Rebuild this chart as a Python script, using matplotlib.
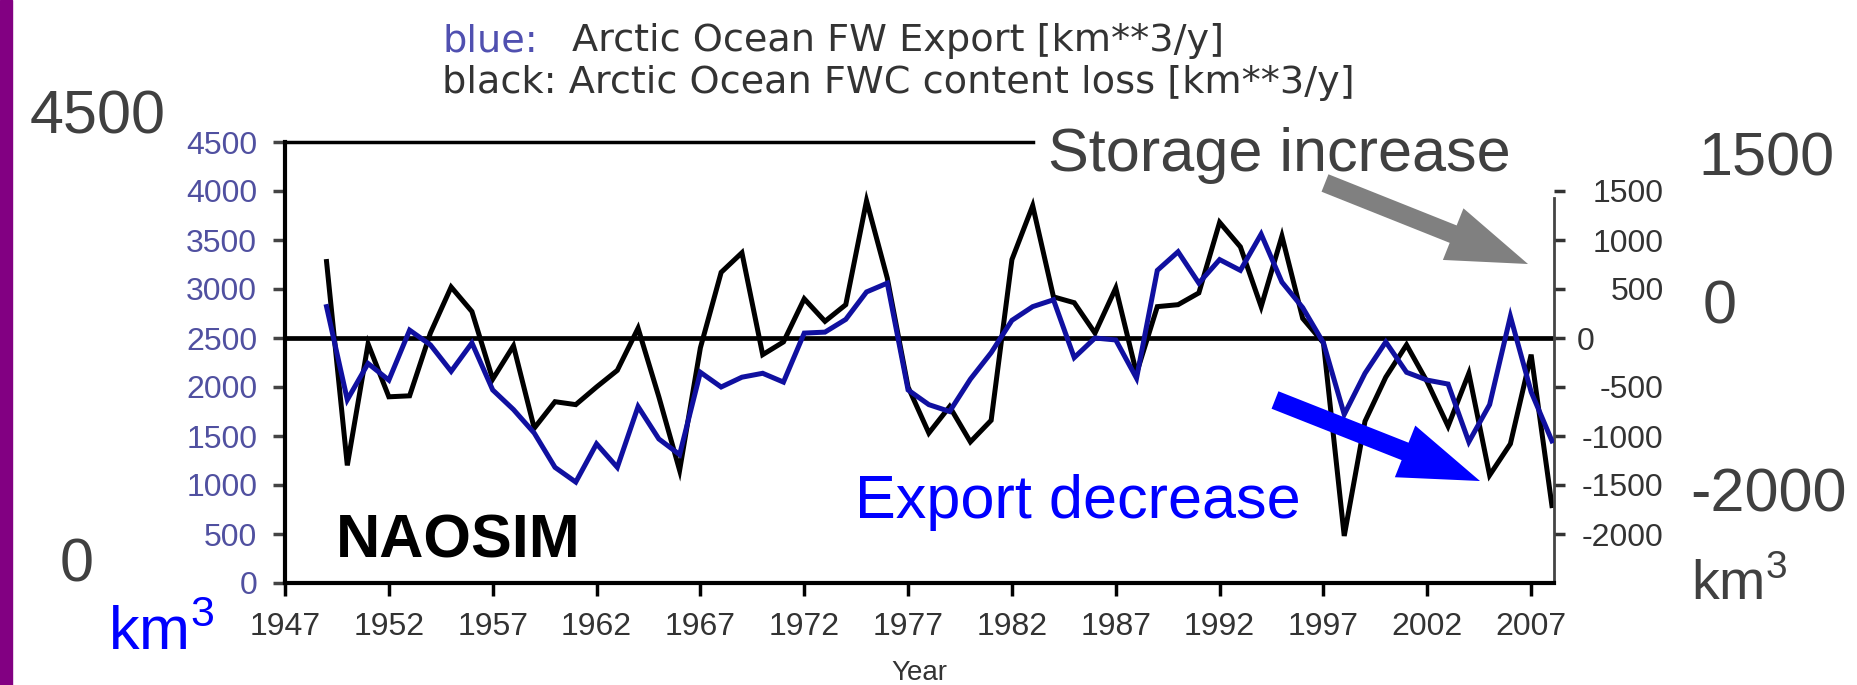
import matplotlib
matplotlib.use("Agg")
import matplotlib.pyplot as plt
from matplotlib.patches import Rectangle
from matplotlib.transforms import ScaledTranslation

plt.rcParams["font.family"] = ["Liberation Sans", "DejaVu Sans"]
plt.rcParams["mathtext.fontset"] = "custom"
plt.rcParams["mathtext.rm"] = "Liberation Sans"

W, H = 1857, 685  # output size in pixels (dpi 100)

YEARS = list(range(1949, 2009))
# blue: Arctic Ocean FW export [km^3/y] (left axis)
EXPORT = [2820, 1870, 2240, 2070, 2580, 2430, 2160, 2450, 1970, 1770,
          1530, 1180, 1030, 1420, 1180, 1800, 1470, 1310,
          2150, 2000, 2100, 2140, 2050, 2550, 2560, 2690, 2970, 3060,
          1970, 1820, 1750, 2080, 2350, 2680, 2820, 2890, 2300, 2500,
          2480, 2090, 3190, 3380, 3060, 3300, 3190, 3560, 3070, 2810,
          2450, 1720,
          2140, 2460, 2150, 2070, 2030, 1440, 1820, 2720, 1950, 1450]
# black: Arctic Ocean FWC content loss [km^3/y] (right axis)
STORAGE = [780, -1300, -60, -600, -590, 50, 520, 270, -420, -80,
           -920, -650, -680, -500, -330, 100, -600, -1350,
           -100, 670, 870, -170, -40, 400, 170, 340, 1400, 610,
           -500, -970, -700, -1060, -840, 800, 1350, 420, 360, 50,
           510, -360, 320, 340, 460, 1180, 930, 320, 1040, 200,
           -50, -2020,
           -850, -400, -70, -450, -900, -360, -1400, -1080, -170, -1710]

XTICKS = list(range(1947, 2008, 5))
LEFT_TICKS = list(range(0, 4501, 500))
RIGHT_TICKS = [1500, 1000, 500, 0, -500, -1000, -1500, -2000]
RIGHT_LABELS = ["1500", "1000", "500", "0", "-500", "-1000", "-1500", "-2000"]

BLUE_LINE = "#1010A0"
TICK_BLUE = "#5050A0"
DARK = "#333333"
BIG = "#404040"


def fpos(x, y):
    """image pixel coords (origin top-left) -> figure fraction"""
    return x / W, 1 - y / H


fig = plt.figure(figsize=(W / 100, H / 100), dpi=100)
ax = fig.add_axes([285 / W, 1 - 583 / H, (1554 - 285) / W, (583 - 142) / H])
ax2 = ax.twinx()

# black line on right axis, blue on left axis (drawn on top)
ax2.plot(YEARS, STORAGE, color="black", lw=3.6, solid_joinstyle="miter")
ax2.axhline(0, color="black", lw=3.4)
ax.plot(YEARS, EXPORT, color=BLUE_LINE, lw=3.6, solid_joinstyle="miter")
ax.set_zorder(ax2.get_zorder() + 1)
ax.patch.set_visible(False)

ax.set_xlim(1947, 2008.1)
ax.set_ylim(0, 4500)
ax2.set_ylim(-2500, 2000)

ax.set_xticks(XTICKS)
ax.set_xticklabels([str(y) for y in XTICKS])
ax.set_yticks(LEFT_TICKS)
ax.set_yticklabels([str(v) for v in LEFT_TICKS])
ax.tick_params(axis="x", direction="out", length=9, width=2.5, pad=12,
               labelsize=23, labelcolor=DARK)
ax.tick_params(axis="y", direction="out", length=9, width=2.5, pad=11,
               labelsize=23, labelcolor=TICK_BLUE, color="#444444")
ax.set_xlabel("Year", fontsize=20, color=DARK, labelpad=13)

ax2.set_yticks(RIGHT_TICKS)
ax2.set_yticklabels(RIGHT_LABELS)
ax2.tick_params(axis="y", direction="out", length=8, width=2.5, pad=71,
                labelsize=23, labelcolor=DARK, color="#333333")
for tick in ax2.yaxis.get_major_ticks():
    lab = tick.label2
    if lab.get_text() == "0":
        lab.set_horizontalalignment("left")
        lab.set_transform(lab.get_transform() +
                          ScaledTranslation(-0.87, 0, fig.dpi_scale_trans))
    else:
        lab.set_horizontalalignment("right")

for s in ["left", "bottom"]:
    ax.spines[s].set_linewidth(3)
ax.spines["top"].set_linewidth(2.5)
ax.spines["top"].set_bounds(1947, 1983)
ax.spines["right"].set_visible(False)
for s in ["left", "top", "bottom"]:
    ax2.spines[s].set_visible(False)
ax2.spines["right"].set_linewidth(2)
ax2.spines["right"].set_color("#444444")
ax2.spines["right"].set_bounds(-2500, 1430)

# purple bar on the left edge of the slide
fig.patches.append(Rectangle((0, 0), 12 / W, 1, transform=fig.transFigure,
                             color="#820082", zorder=0))

# header
fig.text(*fpos(442, 41), "blue:", fontsize=27.5, color="#5050B0",
         family="DejaVu Sans", va="center")
fig.text(*fpos(572, 41), "Arctic Ocean FW Export [km**3/y]", fontsize=27.5,
         color=DARK, family="DejaVu Sans", va="center")
fig.text(*fpos(442, 83), "black: Arctic Ocean FWC content loss [km**3/y]",
         fontsize=27.5, color=DARK, family="DejaVu Sans", va="center")

# large slide annotations
fig.text(*fpos(30, 133), "4500", fontsize=44, color=BIG, va="baseline")
fig.text(*fpos(60, 582), "0", fontsize=44, color=BIG, va="baseline")
fig.text(*fpos(108, 650), r"km$^\mathrm{3}$", fontsize=44, color="#0000FF",
         va="baseline")
fig.text(*fpos(1698, 175), "1500", fontsize=44, color=BIG, va="baseline")
fig.text(*fpos(1703, 323), "0", fontsize=44, color=BIG, va="baseline")
fig.text(*fpos(1690, 512), "-2000", fontsize=44, color=BIG, va="baseline")
fig.text(*fpos(1691, 600), r"km$^\mathrm{3}$", fontsize=40, color=BIG,
         va="baseline")

fig.text(*fpos(1048, 171), "Storage increase", fontsize=44, color=BIG,
         va="baseline")
fig.text(*fpos(855, 518), "Export decrease", fontsize=44, color="#0000FF",
         va="baseline", zorder=5)
fig.text(*fpos(336, 558), "NAOSIM", fontsize=44, fontweight="bold",
         color="black", va="baseline", zorder=5)

# arrows
ax.annotate("", xy=(1528, H - 264), xytext=(1325, H - 183),
            xycoords="figure pixels", textcoords="figure pixels",
            annotation_clip=False,
            arrowprops=dict(facecolor="#808080", edgecolor="none", width=13.5,
                            headwidth=40, headlength=58, shrink=0))
ax.annotate("", xy=(1480, H - 481), xytext=(1275, H - 400),
            xycoords="figure pixels", textcoords="figure pixels",
            annotation_clip=False,
            arrowprops=dict(facecolor="#0000FF", edgecolor="none", width=13.5,
                            headwidth=40, headlength=58, shrink=0))

fig.savefig("out.png", dpi=100)
